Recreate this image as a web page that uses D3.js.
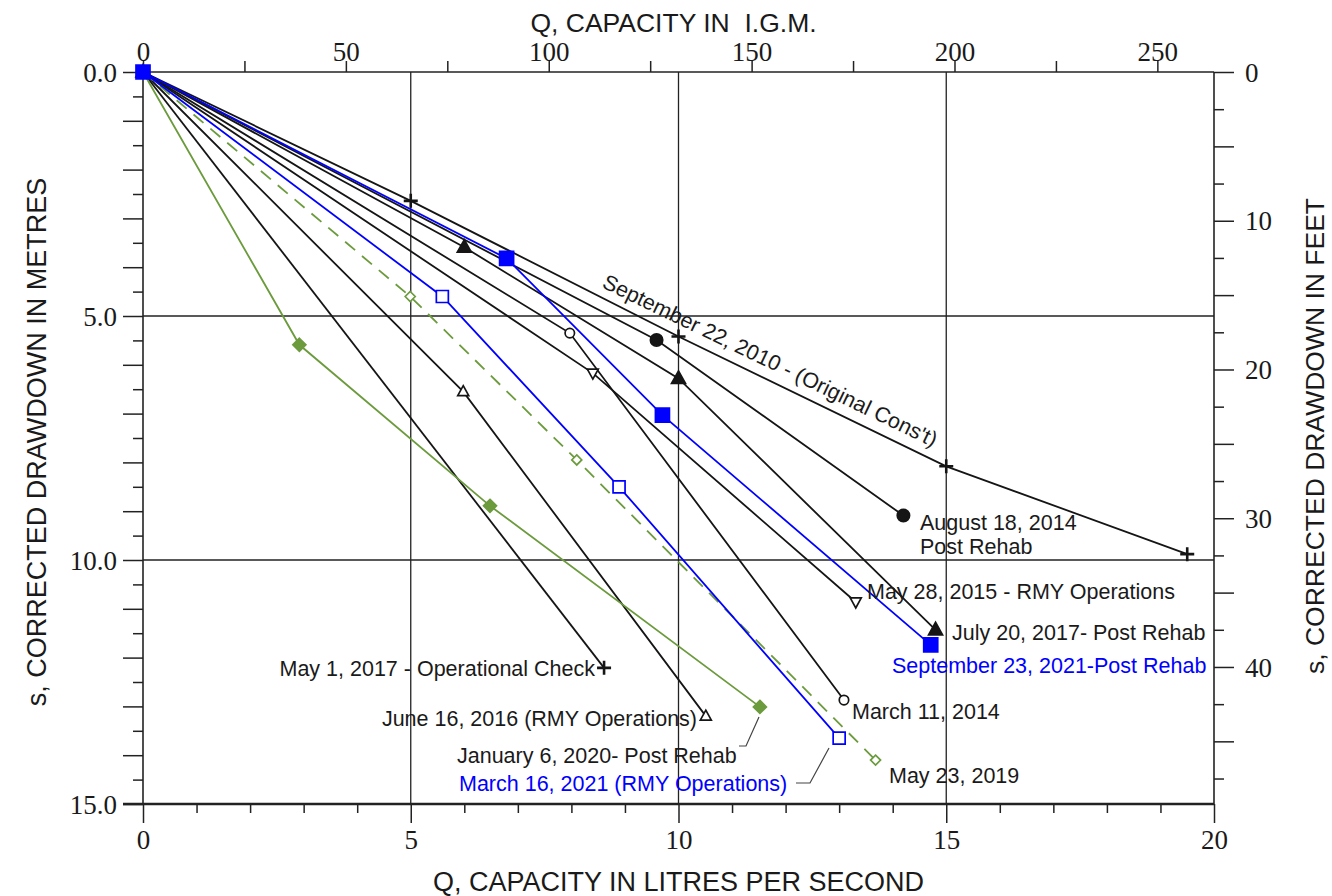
<!DOCTYPE html>
<html>
<head>
<meta charset="utf-8">
<script src="https://cdn.jsdelivr.net/npm/d3@7"></script>
<style>
  body { margin: 0; background: #fff; }
  text { font-family: 'Liberation Sans', Arial, sans-serif; fill: #1a1a1a; }
  .num { font-family: 'Liberation Serif', 'Times New Roman', serif; font-size: 27px; }
</style>
</head>
<body>
<svg id="chart" width="1332" height="896"></svg>
<script>
'use strict';

// Step test results: Q (L/s) and corrected drawdown s (m), one pair per test
const q2010 = [0, 5, 10, 15, 19.5];
const s2010 = [0, 2.64, 5.42, 8.08, 9.88];
const qAug2014 = [0, 9.59, 14.2];
const sAug2014 = [0, 5.49, 9.09];
const qJul2017 = [0, 6.0, 10.0, 14.8];
const sJul2017 = [0, 3.59, 6.28, 11.43];
const qMay2015 = [0, 8.4, 13.31];
const sMay2015 = [0, 6.17, 10.86];
const qMar2014 = [0, 7.97, 13.09];
const sMar2014 = [0, 5.35, 12.87];
const qJun2016 = [0, 5.98, 10.51];
const sJun2016 = [0, 6.55, 13.2];
const qMay2017 = [0, 8.61];
const sMay2017 = [0, 12.21];
const qJan2020 = [0, 2.92, 6.48, 11.52];
const sJan2020 = [0, 5.59, 8.89, 13.01];
const qMay2019 = [0, 4.99, 8.1, 13.68];
const sMay2019 = [0, 4.6, 7.95, 14.1];
const qMar2021 = [0, 5.59, 8.89, 13.0];
const sMar2021 = [0, 4.6, 8.5, 13.65];
const qSep2021 = [0, 6.79, 9.7, 14.71];
const sSep2021 = [0, 3.82, 7.03, 11.74];

const labelTexts = [
  "September 22, 2010 - (Original Cons't)",
  'August 18, 2014', 'Post Rehab',
  'May 28, 2015 - RMY Operations',
  'July 20, 2017- Post Rehab',
  'September 23, 2021-Post Rehab',
  'March 11, 2014',
  'May 23, 2019',
  'May 1, 2017 - Operational Check',
  'June 16, 2016 (RMY Operations)',
  'January 6, 2020- Post Rehab',
  'March 16, 2021 (RMY Operations)'
];

// Axis ticks
const leftTicks = d3.range(0, 15.001, 0.5);       // metres
const rightTicks = d3.range(0, 47.51, 2.5);        // feet
const topTicks = d3.range(0, 250.1, 25);           // I.G.M.
const bottomTicks = d3.range(0, 20.1, 1);          // L/s

const LPS_TO_IGM = 13.198;
const M_TO_FT = 1 / 0.3048;

// Layout
const pL = 143, pR = 1214, pT = 72, pB = 804;
const black = '#151515', blue = '#0000ff', green = '#6c9b3d';

const svg = d3.select('#chart');

const x = d3.scaleLinear().domain([0, 20]).range([pL, pR]);
const y = d3.scaleLinear().domain([0, 15]).range([pT, pB]);
const xIgm = d3.scaleLinear().domain([0, 20 * LPS_TO_IGM]).range([pL, pR]);
const yFt = d3.scaleLinear().domain([0, 15 * M_TO_FT]).range([pT, pB]);

// Grid lines
const grid = svg.append('g').attr('stroke', '#222').attr('stroke-width', 1.3);
grid.selectAll('.vg')
  .data([5, 10, 15])
  .enter()
  .append('line')
  .attr('x1', d => x(d)).attr('x2', d => x(d))
  .attr('y1', pT).attr('y2', pB);
grid.selectAll('.hg')
  .data([5, 10])
  .enter()
  .append('line')
  .attr('x1', pL).attr('x2', pR)
  .attr('y1', d => y(d)).attr('y2', d => y(d));

// Axes
function styleAxis(g) {
  g.attr('font-size', null).attr('font-family', null);
  g.select('.domain').remove();
  g.selectAll('.tick line').attr('stroke', '#222').attr('stroke-width', 1.5);
  g.selectAll('.tick text').attr('class', 'num').attr('fill', '#1a1a1a');
}

const yAxisL = svg.append('g')
  .attr('transform', `translate(${pL},0)`)
  .call(d3.axisLeft(y).tickValues(leftTicks).tickSize(20)
    .tickFormat(d => d % 5 === 0 ? d.toFixed(1) : ''));
styleAxis(yAxisL);
yAxisL.selectAll('.tick line').attr('x2', d => d % 1 === 0 ? -20 : -10);
yAxisL.selectAll('.tick text').attr('x', -26).attr('dy', '0.34em');

const yAxisR = svg.append('g')
  .attr('transform', `translate(${pR},0)`)
  .call(d3.axisRight(yFt).tickValues(rightTicks).tickSize(20)
    .tickFormat(d => d % 10 === 0 ? d : ''));
styleAxis(yAxisR);
yAxisR.selectAll('.tick line').attr('x2', d => d % 5 === 0 ? 20 : 10);
yAxisR.selectAll('.tick text').attr('x', 31).attr('dy', '0.34em');

const xAxisT = svg.append('g')
  .attr('transform', `translate(0,${pT})`)
  .call(d3.axisTop(xIgm).tickValues(topTicks).tickSize(11)
    .tickFormat(d => d % 50 === 0 ? d : ''));
styleAxis(xAxisT);
xAxisT.selectAll('.tick text').attr('y', -11).attr('dy', 0);

const xAxisB = svg.append('g')
  .attr('transform', `translate(0,${pB})`)
  .call(d3.axisBottom(x).tickValues(bottomTicks).tickSize(9)
    .tickFormat(d => d % 5 === 0 ? d : ''));
styleAxis(xAxisB);
xAxisB.selectAll('.tick line').attr('y2', d => d % 5 === 0 ? 19 : 9);
xAxisB.selectAll('.tick text').attr('y', 45).attr('dy', 0);

// Frame
const frame = svg.append('g').attr('stroke', '#222').attr('fill', 'none');
frame.append('line').attr('x1', pL).attr('x2', pL).attr('y1', pT).attr('y2', pB).attr('stroke-width', 1.6);
frame.append('line').attr('x1', pR).attr('x2', pR).attr('y1', pT).attr('y2', pB).attr('stroke-width', 1.6);
frame.append('line').attr('x1', pL).attr('x2', pR).attr('y1', pT).attr('y2', pT).attr('stroke-width', 1.6);
frame.append('line').attr('x1', pL - 20).attr('x2', pR).attr('y1', pB).attr('y2', pB).attr('stroke-width', 2.6);

// Axis titles
svg.append('text')
  .attr('x', (pL + pR) / 2 - 5).attr('y', 32)
  .attr('text-anchor', 'middle')
  .style('font-size', '26.5px').style('white-space', 'pre')
  .text('Q, CAPACITY IN  I.G.M.');

svg.append('text')
  .attr('x', (pL + pR) / 2).attr('y', 891)
  .attr('text-anchor', 'middle')
  .style('font-size', '27px')
  .text('Q, CAPACITY IN LITRES PER SECOND');

svg.append('text')
  .attr('transform', 'translate(46,442) rotate(-90)')
  .attr('text-anchor', 'middle')
  .style('font-size', '27px')
  .text('s, CORRECTED DRAWDOWN IN METRES');

svg.append('text')
  .attr('transform', 'translate(1324,436) rotate(-90)')
  .attr('text-anchor', 'middle')
  .style('font-size', '26.5px')
  .text('s, CORRECTED DRAWDOWN IN FEET');

// Series
const series = [
  { q: q2010, s: s2010, color: black, marker: 'plus' },
  { q: qAug2014, s: sAug2014, color: black, marker: 'dot' },
  { q: qJul2017, s: sJul2017, color: black, marker: 'tri' },
  { q: qMay2015, s: sMay2015, color: black, marker: 'triDownOpen' },
  { q: qMar2014, s: sMar2014, color: black, marker: 'circleOpen' },
  { q: qJun2016, s: sJun2016, color: black, marker: 'triOpen' },
  { q: qMay2017, s: sMay2017, color: black, marker: 'plus' },
  { q: qJan2020, s: sJan2020, color: green, marker: 'diamond' },
  { q: qMay2019, s: sMay2019, color: green, marker: 'diamondOpen', dash: '13,9' },
  { q: qMar2021, s: sMar2021, color: blue, marker: 'squareOpen' },
  { q: qSep2021, s: sSep2021, color: blue, marker: 'square' }
];

const line = d3.line().x(d => x(d[0])).y(d => y(d[1]));

const lines = svg.append('g').attr('fill', 'none');
series.forEach(sr => {
  lines.append('path')
    .datum(sr.q.map((q, i) => [q, sr.s[i]]))
    .attr('d', line)
    .attr('stroke', sr.color)
    .attr('stroke-width', 1.8)
    .attr('stroke-dasharray', sr.dash || null);
});

const markerPaths = {
  plus: 'M-7,0H7M0,-7V7',
  dot: d3.symbol(d3.symbolCircle, 120)(),
  tri: 'M0,-7.5L7,5L-7,5Z',
  triOpen: 'M0,-6L5.5,4L-5.5,4Z',
  triDownOpen: 'M0,6L5.5,-4L-5.5,-4Z',
  circleOpen: d3.symbol(d3.symbolCircle, 70)(),
  diamond: 'M0,-6.5L6.5,0L0,6.5L-6.5,0Z',
  diamondOpen: 'M0,-5L5,0L0,5L-5,0Z',
  square: 'M-7,-7H7V7H-7Z',
  squareOpen: 'M-6,-6H6V6H-6Z'
};

const marks = svg.append('g');
series.forEach(sr => {
  const open = /Open|plus/.test(sr.marker);
  marks.selectAll(null)
    .data(sr.q.map((q, i) => [q, sr.s[i]]))
    .enter()
    .append('path')
    .attr('transform', d => `translate(${x(d[0])},${y(d[1])})`)
    .attr('d', markerPaths[sr.marker])
    .attr('fill', open ? '#fff' : sr.color)
    .attr('fill-opacity', sr.marker === 'plus' ? 0 : 1)
    .attr('stroke', sr.color)
    .attr('stroke-width', sr.marker === 'plus' ? 2.6 : 1.7);
});

// Labels
const labelLayout = [
  { x: 601, y: 287, rotate: 25.8 },
  { x: 920, y: 530 }, { x: 920, y: 554 },
  { x: 867, y: 599 },
  { x: 952, y: 640 },
  { x: 892, y: 673, color: blue },
  { x: 852, y: 719 },
  { x: 889, y: 783 },
  { x: 595, y: 676, anchor: 'end' },
  { x: 697, y: 726, anchor: 'end' },
  { x: 457, y: 763 },
  { x: 459, y: 791, color: blue }
];

const labels = svg.append('g').style('font-size', '21.5px');
labelTexts.forEach((t, i) => {
  const p = labelLayout[i];
  labels.append('text')
    .attr('transform', `translate(${p.x},${p.y})` + (p.rotate ? ` rotate(${p.rotate})` : ''))
    .attr('text-anchor', p.anchor || 'start')
    .style('fill', p.color || '#1a1a1a')
    .text(t);
});

// Leader lines for the two crowded labels
const leaders = [
  [[739, 746], [746, 746], [759, 717]],
  [[796, 783], [810, 783], [829, 748]]
];
svg.append('g')
  .selectAll('path')
  .data(leaders)
  .enter()
  .append('path')
  .attr('d', d3.line())
  .attr('fill', 'none')
  .attr('stroke', '#444')
  .attr('stroke-width', 1.2);
</script>
</body>
</html>
